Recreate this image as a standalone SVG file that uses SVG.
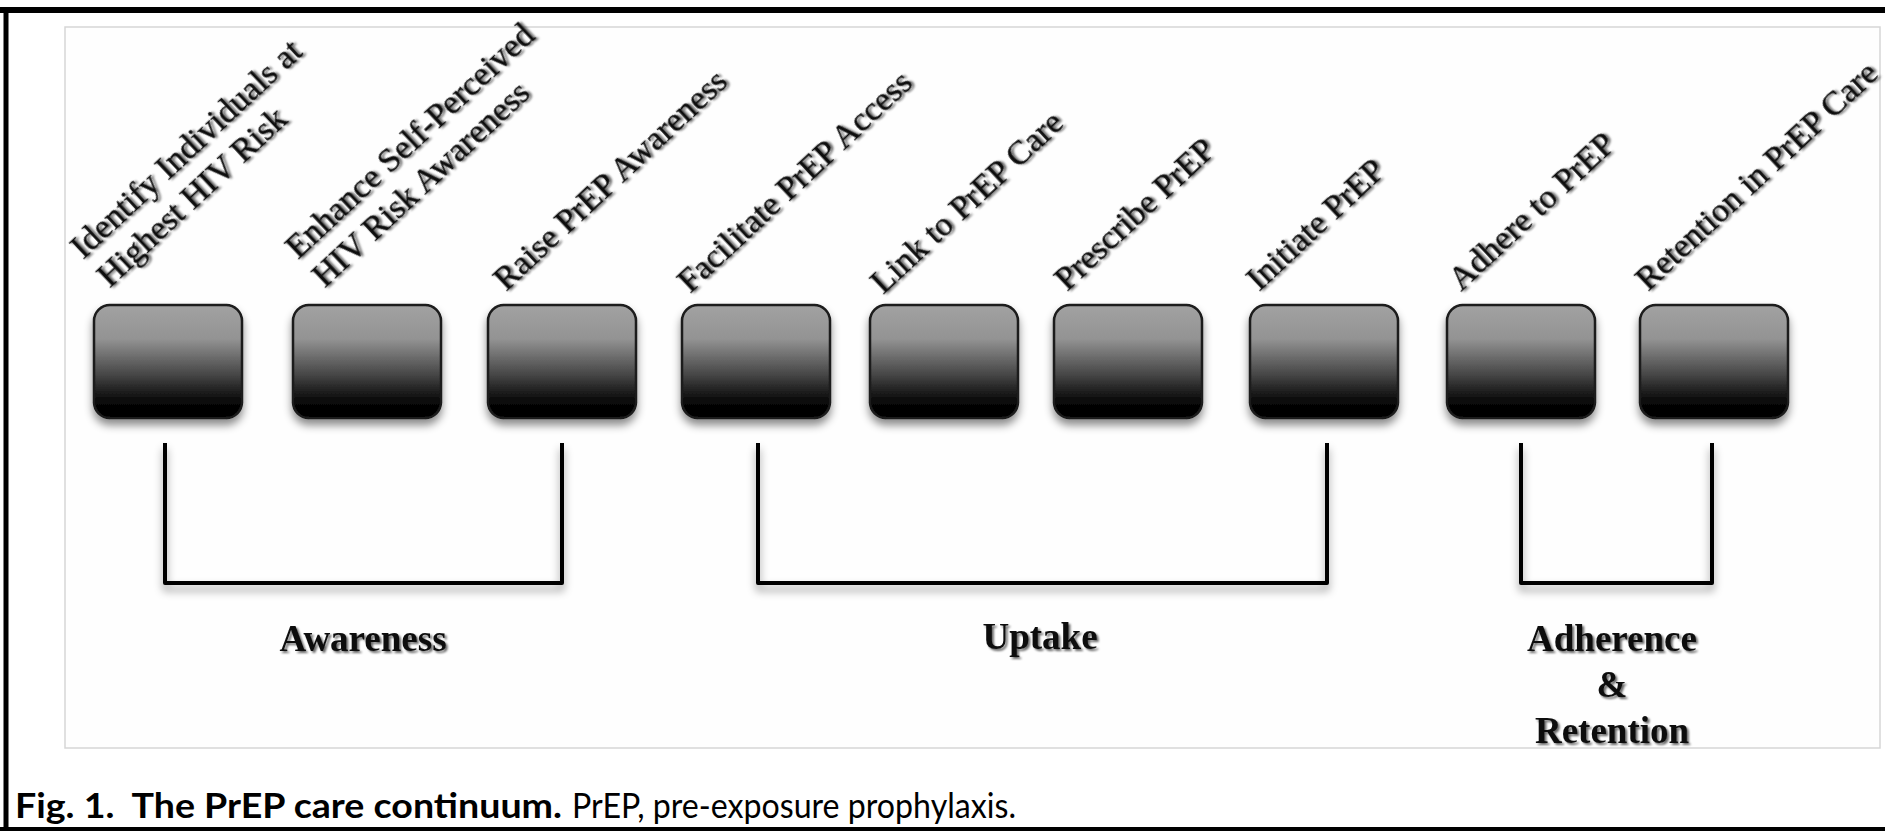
<svg xmlns="http://www.w3.org/2000/svg" width="1885" height="831" viewBox="0 0 1885 831">
  <defs>
    <linearGradient id="boxGrad" x1="0" y1="0" x2="0" y2="1">
      <stop offset="0" stop-color="#a2a2a2"/>
      <stop offset="0.3" stop-color="#939393"/>
      <stop offset="0.6" stop-color="#4a4a4a"/>
      <stop offset="0.85" stop-color="#080808"/>
      <stop offset="1" stop-color="#000"/>
    </linearGradient>
    <filter id="boxShadow" x="-20%" y="-20%" width="140%" height="150%">
      <feDropShadow dx="0" dy="6" stdDeviation="4" flood-color="#000" flood-opacity="0.45"/>
    </filter>
    <filter id="lineShadow" x="-10%" y="-10%" width="120%" height="130%">
      <feDropShadow dx="0" dy="6" stdDeviation="4" flood-color="#000" flood-opacity="0.4"/>
    </filter>
    <filter id="textShadow" x="-10%" y="-30%" width="120%" height="160%">
      <feDropShadow dx="2" dy="2" stdDeviation="1.3" flood-color="#000" flood-opacity="0.6"/>
    </filter>
  </defs>
  <style>
    .box { fill: url(#boxGrad); stroke: #1a1a1a; stroke-width: 2.5; filter: url(#boxShadow); }
    .lbl { font-family: "Liberation Serif", "Times New Roman", serif; font-size: 34px; fill: #111; stroke: #111; stroke-width: 0.3; filter: url(#textShadow); }
    .grp { font-family: "Liberation Serif", "Times New Roman", serif; font-size: 37px; font-weight: bold; fill: #111; text-anchor: middle; filter: url(#textShadow); }
    .br { fill: none; stroke: #000; stroke-width: 4; stroke-linejoin: round; filter: url(#lineShadow); }
    .cap { font-family: Lato, "Open Sans", "Liberation Sans", sans-serif; font-size: 35px; fill: #000; }
  </style>
  <rect x="0" y="0" width="1885" height="831" fill="#fff"/>
  <rect x="65" y="27" width="1815" height="721" fill="#fefefe" stroke="#d6d6d6" stroke-width="1.5"/>
  <g id="frame" stroke="#000" fill="none">
    <line x1="0" y1="10" x2="1885" y2="10" stroke-width="6"/>
    <line x1="6" y1="7" x2="6" y2="831" stroke-width="5"/>
    <line x1="0" y1="829" x2="1885" y2="829" stroke-width="4"/>
  </g>

  <g id="node1">
    <rect class="box" x="94" y="305" width="148" height="113" rx="16"/>
    <text class="lbl" transform="translate(83,260) rotate(-43)">Identify Individuals at<tspan x="0" dy="38.5">Highest HIV Risk</tspan></text>
  </g>
  <g id="node2">
    <rect class="box" x="293" y="305" width="148" height="113" rx="16"/>
    <text class="lbl" transform="translate(298,260) rotate(-43)">Enhance Self-Perceived<tspan x="0" dy="38.5">HIV Risk Awareness</tspan></text>
  </g>
  <g id="node3">
    <rect class="box" x="488" y="305" width="148" height="113" rx="16"/>
    <text class="lbl" transform="translate(506,292) rotate(-43)">Raise PrEP Awareness</text>
  </g>
  <g id="node4">
    <rect class="box" x="682" y="305" width="148" height="113" rx="16"/>
    <text class="lbl" transform="translate(690,294) rotate(-43)">Facilitate PrEP Access</text>
  </g>
  <g id="node5">
    <rect class="box" x="870" y="305" width="148" height="113" rx="16"/>
    <text class="lbl" transform="translate(883,295) rotate(-43)">Link to PrEP Care</text>
  </g>
  <g id="node6">
    <rect class="box" x="1054" y="305" width="148" height="113" rx="16"/>
    <text class="lbl" transform="translate(1067,292) rotate(-43)">Prescribe PrEP</text>
  </g>
  <g id="node7">
    <rect class="box" x="1250" y="305" width="148" height="113" rx="16"/>
    <text class="lbl" transform="translate(1259,292) rotate(-43)">Initiate PrEP</text>
  </g>
  <g id="node8">
    <rect class="box" x="1447" y="305" width="148" height="113" rx="16"/>
    <text class="lbl" transform="translate(1461,292) rotate(-43)">Adhere to PrEP</text>
  </g>
  <g id="node9">
    <rect class="box" x="1640" y="305" width="148" height="113" rx="16"/>
    <text class="lbl" transform="translate(1648,292) rotate(-43)" font-size="33">Retention in PrEP Care</text>
  </g>

  <g id="connectors">
    <path class="br" d="M165,443 V583 H562 V443"/>
    <path class="br" d="M758,443 V583 H1327 V443"/>
    <path class="br" d="M1521,443 V583 H1712 V443"/>
  </g>

  <g id="awareness">
    <text class="grp" x="363" y="651">Awareness</text>
  </g>
  <g id="uptake">
    <text class="grp" x="1040" y="649">Uptake</text>
  </g>
  <g id="adherence">
    <text class="grp" x="1612" y="651">Adherence</text>
    <text class="grp" x="1612" y="697">&amp;</text>
    <text class="grp" x="1612" y="743">Retention</text>
  </g>

  <g id="caption">
    <text class="cap" x="15" y="818" font-weight="bold" xml:space="preserve" textLength="547" lengthAdjust="spacingAndGlyphs">Fig. 1.  The PrEP care continuum.</text>
    <text class="cap" x="572" y="818" textLength="444" lengthAdjust="spacingAndGlyphs">PrEP, pre-exposure prophylaxis.</text>
  </g>
</svg>
